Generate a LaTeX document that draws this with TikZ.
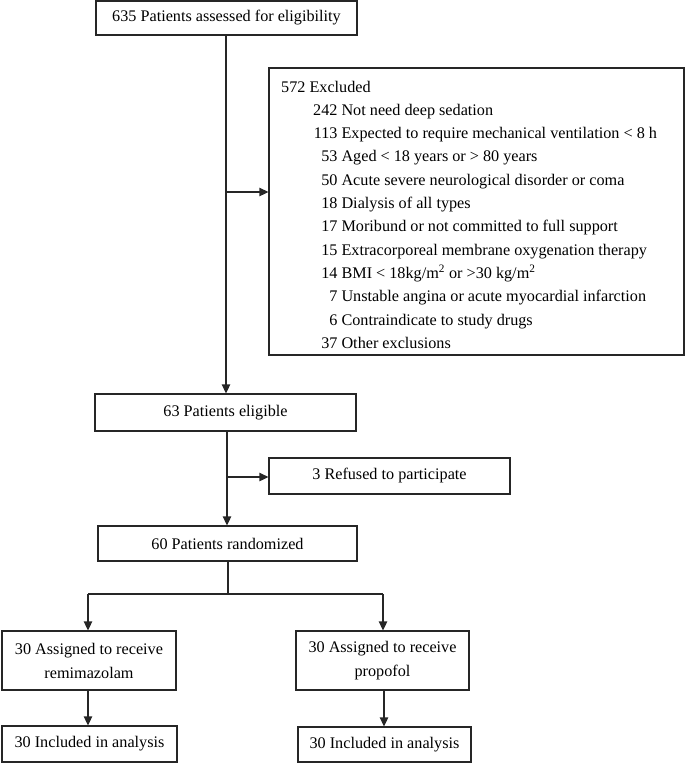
\documentclass[tikz,border=0pt]{standalone}
\usepackage{fontspec}
\setmainfont{Liberation Serif}
\usetikzlibrary{arrows.meta}
\begin{document}
\begin{tikzpicture}[x=1pt,y=-1pt,
  box/.style={draw=black!85, line width=1.3pt, inner sep=0pt, align=center,
    font=\fontsize{16.2}{24}\selectfont},
  conn/.style={draw=black!85, line width=1.3pt},
  arr/.style={conn, -{Triangle[length=9pt,width=8.5pt]}}]
\useasboundingbox (0,0) rectangle (685,763);
\node[box, minimum width=261pt, minimum height=34pt] (top) at (226.5,18) {635 Patients assessed for eligibility};
\node[box, minimum width=415pt, minimum height=287pt] (excl) at (476.5,211.5) {};
\node[inner sep=0pt, anchor=base west, font=\fontsize{16.2}{23.3}\selectfont] (excltxt) at (281,92) {%
\begin{tabular}[t]{@{}r@{\ }l@{}}
\multicolumn{2}{@{}l@{}}{572 Excluded}\\
\hspace*{32pt}242 & Not need deep sedation\\
113 & Expected to require mechanical ventilation < 8 h\\
53 & Aged < 18 years or > 80 years\\
50 & Acute severe neurological disorder or coma\\
18 & Dialysis of all types\\
17 & Moribund or not committed to full support\\
15 & Extracorporeal membrane oxygenation therapy\\
14 & BMI < 18kg/m\textsuperscript{2} or >30 kg/m\textsuperscript{2}\\
7 & Unstable angina or acute myocardial infarction\\
6 & Contraindicate to study drugs\\
37 & Other exclusions
\end{tabular}};
\node[box, minimum width=261pt, minimum height=37pt] (elig) at (225.5,412.5) {63 Patients eligible};
\node[box, minimum width=241pt, minimum height=36pt] (ref) at (389.5,476) {3 Refused to participate};
\node[box, minimum width=259pt, minimum height=35pt] (rand) at (227.5,543.5) {60 Patients randomized};
\node[box, minimum width=174pt, minimum height=59pt] (remi) at (89,660.5) {30 Assigned to receive\\remimazolam};
\node[box, minimum width=173pt, minimum height=59pt] (prop) at (382.5,660.5) {30 Assigned to receive\\propofol};
\node[box, minimum width=175pt, minimum height=36pt] (inc1) at (89.5,744) {30 Included in analysis};
\node[box, minimum width=173pt, minimum height=35pt] (inc2) at (384.5,744.5) {30 Included in analysis};
% connectors
\coordinate (t0) at (226,35);
\coordinate (b1) at (226,192);
\draw[arr] (t0) -- (t0 |- elig.north);
\draw[arr] (b1) -- (b1 -| excl.west);
\coordinate (e0) at (227,431);
\coordinate (b2) at (227,477);
\draw[arr] (e0) -- (e0 |- rand.north);
\draw[arr] (b2) -- (b2 -| ref.west);
\coordinate (r0) at (228,561);
\coordinate (split) at (228,594);
\coordinate (sl) at (88,594);
\coordinate (sr) at (383,594);
\draw[conn] (r0) -- (split);
\draw[conn] (sl) -- (sr);
\draw[arr] (sl) -- (sl |- remi.north);
\draw[arr] (sr) -- (sr |- prop.north);
\coordinate (m1) at (88,690);
\coordinate (m2) at (384,690);
\draw[arr] (m1) -- (m1 |- inc1.north);
\draw[arr] (m2) -- (m2 |- inc2.north);
\end{tikzpicture}
\end{document}
